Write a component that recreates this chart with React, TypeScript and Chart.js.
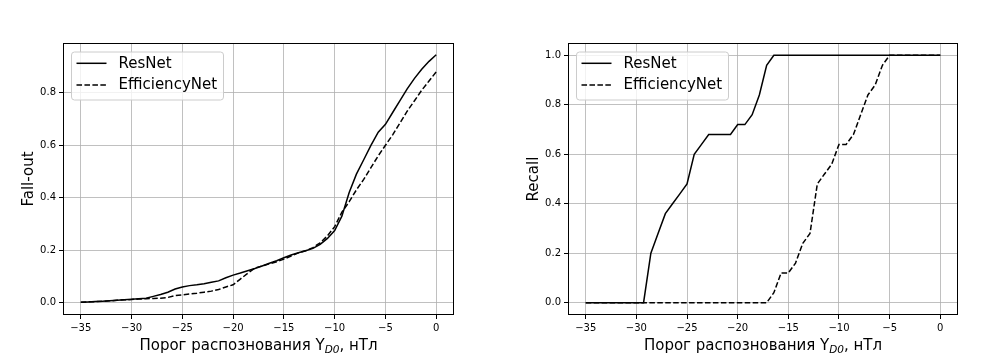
import React, { useEffect, useRef } from "react";
import { Chart, registerables } from "chart.js";

Chart.register(...registerables);

// Threshold values (x axis), 50 samples from -35 to 0
const thresholds = [
  -35, -34.29, -33.57, -32.86, -32.14, -31.43, -30.71, -30, -29.29, -28.57,
  -27.86, -27.14, -26.43, -25.71, -25, -24.29, -23.57, -22.86, -22.14, -21.43,
  -20.71, -20, -19.29, -18.57, -17.86, -17.14, -16.43, -15.71, -15, -14.29,
  -13.57, -12.86, -12.14, -11.43, -10.71, -10, -9.29, -8.57, -7.86, -7.14,
  -6.43, -5.71, -5, -4.29, -3.57, -2.86, -2.14, -1.43, -0.71, 0,
];

const resnetFallout = [
  0.002, 0.003, 0.004, 0.005, 0.007, 0.009, 0.011, 0.013, 0.015, 0.017,
  0.024, 0.031, 0.04, 0.052, 0.06, 0.065, 0.068, 0.072, 0.078, 0.083,
  0.095, 0.105, 0.113, 0.122, 0.13, 0.14, 0.15, 0.16, 0.171, 0.182,
  0.19, 0.198, 0.207, 0.222, 0.245, 0.275, 0.33, 0.42, 0.49, 0.545,
  0.6, 0.65, 0.68, 0.725, 0.77, 0.815, 0.855, 0.89, 0.92, 0.945,
];

const effnetFallout = [
  0.002, 0.003, 0.004, 0.005, 0.007, 0.009, 0.011, 0.012, 0.014, 0.015,
  0.016, 0.017, 0.02, 0.027, 0.03, 0.033, 0.036, 0.04, 0.044, 0.05,
  0.06, 0.068, 0.09, 0.112, 0.132, 0.14, 0.148, 0.156, 0.166, 0.178,
  0.19, 0.198, 0.21, 0.228, 0.255, 0.29, 0.345, 0.385, 0.43, 0.47,
  0.515, 0.56, 0.6, 0.64, 0.685, 0.73, 0.77, 0.81, 0.845, 0.88,
];

const resnetRecall = [
  0, 0, 0, 0, 0, 0, 0, 0, 0, 0.2,
  0.28, 0.36, 0.4, 0.44, 0.48, 0.6, 0.64, 0.68, 0.68, 0.68,
  0.68, 0.72, 0.72, 0.76, 0.84, 0.96, 1, 1, 1, 1,
  1, 1, 1, 1, 1, 1, 1, 1, 1, 1,
  1, 1, 1, 1, 1, 1, 1, 1, 1, 1,
];

const effnetRecall = [
  0, 0, 0, 0, 0, 0, 0, 0, 0, 0,
  0, 0, 0, 0, 0, 0, 0, 0, 0, 0,
  0, 0, 0, 0, 0, 0, 0.04, 0.12, 0.12, 0.16,
  0.24, 0.28, 0.48, 0.52, 0.56, 0.64, 0.64, 0.68, 0.76, 0.84,
  0.88, 0.96, 1, 1, 1, 1, 1, 1, 1, 1,
];

const seriesNames = ["ResNet", "EfficiencyNet"];
const xTickValues = [-35, -30, -25, -20, -15, -10, -5, 0];
const falloutTickValues = [0, 0.2, 0.4, 0.6, 0.8];
const recallTickValues = [0, 0.2, 0.4, 0.6, 0.8, 1.0];
const xTitleMain = "Порог распознования Y";
const xTitleSub = "D0";
const xTitleTail = ", нТл";

const FONT = "'DejaVu Sans', sans-serif";
const DASH = [5.55, 2.4];

const decorPlugin = {
  id: "decor",
  afterDatasetsDraw(chart: any) {
    const { ctx, chartArea: a } = chart;
    // legend
    const bx = a.left + 8;
    const by = a.top + 8.5;
    const bw = 152;
    const bh = 48;
    ctx.save();
    ctx.beginPath();
    if (ctx.roundRect) ctx.roundRect(bx + 0.5, by + 0.5, bw, bh, 3);
    else ctx.rect(bx + 0.5, by + 0.5, bw, bh);
    ctx.fillStyle = "rgba(255,255,255,0.8)";
    ctx.fill();
    ctx.strokeStyle = "#cccccc";
    ctx.lineWidth = 1;
    ctx.stroke();
    const rows = [by + 11.8, by + 33.6];
    seriesNames.forEach((name, i) => {
      ctx.beginPath();
      ctx.setLineDash(i === 0 ? [] : DASH);
      ctx.strokeStyle = "#000";
      ctx.lineWidth = 1.5;
      ctx.moveTo(bx + 5.5, rows[i]);
      ctx.lineTo(bx + 35.5, rows[i]);
      ctx.stroke();
      ctx.setLineDash([]);
      ctx.fillStyle = "#000";
      ctx.font = `15px ${FONT}`;
      ctx.textBaseline = "middle";
      ctx.textAlign = "left";
      ctx.fillText(name, bx + 47.5, rows[i] + 0.5);
    });
    ctx.restore();
  },
  afterDraw(chart: any) {
    const { ctx, chartArea: a } = chart;
    ctx.save();
    // frame
    ctx.strokeStyle = "#000";
    ctx.lineWidth = 1;
    ctx.strokeRect(
      Math.round(a.left) + 0.5,
      Math.round(a.top) + 0.5,
      Math.round(a.right - a.left) - 1,
      Math.round(a.bottom - a.top) - 1
    );
    // x title with subscript
    ctx.fillStyle = "#000";
    ctx.textBaseline = "alphabetic";
    ctx.textAlign = "left";
    const mainFont = `15px ${FONT}`;
    const subFont = `italic 10.5px ${FONT}`;
    ctx.font = mainFont;
    const w1 = ctx.measureText(xTitleMain).width;
    const w3 = ctx.measureText(xTitleTail).width;
    ctx.font = subFont;
    const w2 = ctx.measureText(xTitleSub).width;
    const total = w1 + w2 + w3;
    const cx = (a.left + a.right) / 2;
    let x = cx - total / 2;
    const base = 349.5;
    ctx.font = mainFont;
    ctx.fillText(xTitleMain, x, base);
    x += w1;
    ctx.font = subFont;
    ctx.fillText(xTitleSub, x, base + 3);
    x += w2;
    ctx.font = mainFont;
    ctx.fillText(xTitleTail, x, base);
    ctx.restore();
  },
};

function makeConfig(
  yTitle: string,
  a: number[],
  b: number[],
  yMin: number,
  yMax: number,
  yTicks: number[],
  yAxisWidth: number,
  titlePad: number
) {
  const toPts = (arr: number[]) => thresholds.map((x, i) => ({ x, y: arr[i] }));
  return {
    type: "line",
    data: {
      datasets: [
        {
          label: seriesNames[0],
          data: toPts(a),
          borderColor: "#000",
          borderWidth: 1.5,
          pointRadius: 0,
          tension: 0,
          fill: false,
        },
        {
          label: seriesNames[1],
          data: toPts(b),
          borderColor: "#000",
          borderWidth: 1.5,
          borderDash: DASH,
          pointRadius: 0,
          tension: 0,
          fill: false,
        },
      ],
    },
    options: {
      animation: false,
      responsive: false,
      devicePixelRatio: 1,
      layout: { padding: { top: 43, right: 50, left: 0, bottom: 0 } },
      plugins: { legend: { display: false }, tooltip: { enabled: false } },
      scales: {
        x: {
          type: "linear",
          min: -36.75,
          max: 1.75,
          afterBuildTicks: (s: any) => {
            s.ticks = xTickValues.map((v) => ({ value: v }));
          },
          afterFit: (s: any) => {
            s.height = 45;
          },
          ticks: {
            color: "#000",
            font: { family: FONT, size: 10 },
            padding: 3,
            maxRotation: 0,
            autoSkip: false,
            callback: (v: any) => String(v).replace("-", "\u2212"),
          },
          grid: {
            color: "#b0b0b0",
            lineWidth: 0.8,
            drawTicks: true,
            tickLength: 4,
            tickColor: "#000",
            tickWidth: 1,
          },
          border: { display: false },
        },
        y: {
          type: "linear",
          min: yMin,
          max: yMax,
          afterBuildTicks: (s: any) => {
            s.ticks = yTicks.map((v) => ({ value: v }));
          },
          afterFit: (s: any) => {
            s.width = yAxisWidth;
          },
          ticks: {
            color: "#000",
            font: { family: FONT, size: 10 },
            padding: 3,
            autoSkip: false,
            callback: (v: any) => Number(v).toFixed(1),
          },
          grid: {
            color: "#b0b0b0",
            lineWidth: 0.8,
            drawTicks: true,
            tickLength: 4,
            tickColor: "#000",
            tickWidth: 1,
          },
          border: { display: false },
          title: {
            display: true,
            text: yTitle,
            color: "#000",
            font: { family: FONT, size: 15 },
            padding: { top: titlePad, bottom: 0 },
          },
        },
      },
    },
    plugins: [decorPlugin],
  };
}

function Panel(props: { cfg: any; left: number }) {
  const ref = useRef<HTMLCanvasElement | null>(null);
  useEffect(() => {
    if (!ref.current) return;
    const chart = new Chart(ref.current, props.cfg);
    return () => chart.destroy();
  }, []);
  return (
    <div style={{ position: "absolute", left: props.left, top: 0, width: 504, height: 360 }}>
      <canvas ref={ref} width={504} height={360} style={{ width: 504, height: 360, display: "block" }} />
    </div>
  );
}

export default function App() {
  const leftCfg = makeConfig("Fall-out", resnetFallout, effnetFallout, -0.047, 0.99, falloutTickValues, 63, 20);
  const rightCfg = makeConfig("Recall", resnetRecall, effnetRecall, -0.05, 1.05, recallTickValues, 64, 21);
  return (
    <div
      style={{
        position: "fixed",
        left: 0,
        top: 0,
        width: 1008,
        height: 360,
        background: "#fff",
        overflow: "hidden",
      }}
    >
      <Panel cfg={leftCfg} left={0} />
      <Panel cfg={rightCfg} left={504} />
    </div>
  );
}
